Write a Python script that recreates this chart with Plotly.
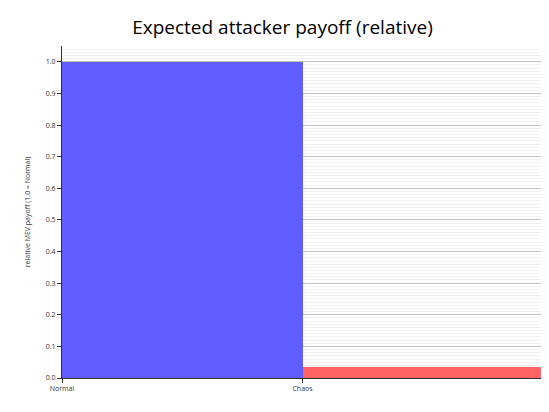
import plotly.graph_objects as go

labels = ["Normal", "Chaos"]
payoff = [1.0, 0.035]
colors = ["#5f5fff", "#ff6363"]

fig = go.Figure()
fig.add_trace(go.Bar(
    x=[0, 1], y=payoff, width=[1, 1], offset=0,
    marker=dict(color=colors, line=dict(width=0)),
))

fig.update_layout(
    width=549, height=412,
    margin=dict(l=54, r=14, t=38, b=42, autoexpand=False),
    plot_bgcolor="white", paper_bgcolor="white",
    font=dict(family="Open Sans", size=7, color="#333"),
    title=dict(text="Expected attacker payoff (relative)", x=0.5, y=0.97,
               xanchor="center", font=dict(size=19, color="black"), automargin=False),
    showlegend=False, bargap=0,
)
fig.update_xaxes(
    range=[0, 2], tickvals=[0, 1, 2], ticktext=labels + [""],
    showgrid=False, showline=True, linecolor="#333", linewidth=1,
    ticks="outside", ticklen=4, tickcolor="#333", zeroline=False, automargin=False,
)
fig.update_yaxes(
    range=[0, 1.05], dtick=0.1, tickformat=".1f",
    title=dict(text="relative MEV payoff (1.0 = Normal)", font=dict(size=7), standoff=14),
    showline=True, linecolor="#333", linewidth=1,
    ticks="outside", ticklen=4, tickcolor="#333",
    showgrid=True, gridcolor="rgba(60,60,60,0.3)", gridwidth=1,
    minor=dict(dtick=0.01, showgrid=True, gridcolor="rgba(60,60,60,0.08)", gridwidth=1),
    zeroline=False, layer="above traces", automargin=False,
)

fig.write_html("out.html")
